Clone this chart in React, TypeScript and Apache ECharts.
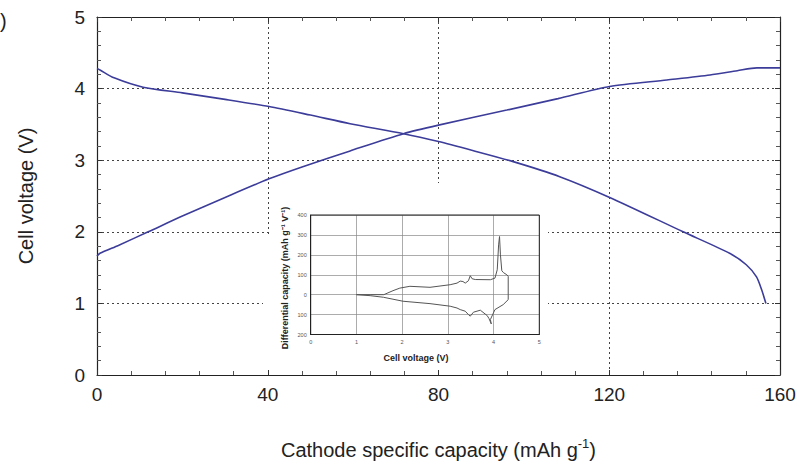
import React, { useEffect, useRef } from "react";
import * as echarts from "echarts";

// Main plot: charge (rising) curve
const chargeCap = [0, 0.7, 5, 12, 20, 30, 40.3, 48.2, 59.3, 71.8, 80, 96, 108, 120.1, 133.5, 143.6, 150, 154.6, 160];
const chargeV = [1.66, 1.7, 1.81, 2.0, 2.22, 2.48, 2.74, 2.91, 3.13, 3.37, 3.49, 3.7, 3.86, 4.03, 4.12, 4.19, 4.25, 4.29, 4.29];

// Main plot: discharge (falling) curve
const dischCap = [0, 0.7, 4, 10.8, 20, 30, 40.3, 50, 59.3, 71.8, 80, 88, 97.5, 108.4, 120.1, 137.3, 148.2, 152.1, 154.5, 155.7, 156.7];
const dischV = [4.28, 4.26, 4.15, 4.02, 3.94, 3.85, 3.75, 3.63, 3.51, 3.37, 3.26, 3.135, 2.98, 2.77, 2.48, 2.0, 1.7, 1.54, 1.37, 1.19, 1.0];

// Inset: differential capacity, upper (charge) branch
const insetUpV = [1.0, 1.3, 1.6, 1.8, 1.95, 2.17, 2.61, 3.05, 3.2, 3.27, 3.33, 3.38, 3.45, 3.49, 3.53, 3.6, 3.93, 4.03, 4.08, 4.11, 4.13, 4.15, 4.18, 4.22, 4.29, 4.32, 4.32];
const insetUpVal = [0, 0, 0, 20, 33, 42, 37, 50, 58, 68, 66, 58, 70, 95, 80, 76, 75, 83, 125, 250, 292, 200, 120, 110, 100, 92, -25];

// Inset: lower (discharge) branch
const insetLowV = [4.32, 4.21, 4.03, 3.93, 3.95, 3.9, 3.86, 3.71, 3.56, 3.49, 3.45, 3.38, 3.27, 3.2, 3.05, 2.61, 2.02, 1.59, 1.3, 1.0];
const insetLowVal = [-25, -50, -75, -125, -147, -120, -105, -78, -88, -108, -100, -83, -75, -67, -58, -45, -33, -13, -5, 0];

const zip = (a: number[], b: number[]) => a.map((v, i) => [v, b[i]]);

const FONT = "Liberation Sans, Arial, sans-serif";
const CURVE = "#3c3c9a";

export default function App() {
  const ref = useRef<HTMLDivElement>(null);
  useEffect(() => {
    if (!ref.current) return;
    const chart = echarts.init(ref.current, null, { renderer: "svg" });
    const mainG = { left: 97, top: 17, width: 683, height: 358 };
    const insG = { left: 310.7, top: 215, width: 228.6, height: 119.5 };
    const tickCommon = {
      axisLine: { show: true, onZero: false, lineStyle: { color: "#222", width: 1.2 } },
      axisTick: { show: true, inside: true, length: 5, lineStyle: { color: "#333" } },
      minorTick: { show: true, splitNumber: 5, length: 4, lineStyle: { color: "#555" } },
    };
    const option: any = {
      animation: false,
      backgroundColor: "#fff",
      grid: [mainG, insG],
      xAxis: [
        {
          gridIndex: 0, type: "value", min: 0, max: 160, interval: 40, position: "bottom",
          ...tickCommon,
          axisLabel: { fontSize: 19, color: "#222", margin: 10, fontFamily: FONT },
          splitLine: { show: true, lineStyle: { type: [2, 3], color: "#444", width: 1 } },
          name: "{a|Cathode specific capacity (mAh g}{s|-1}{a|)}",
          nameLocation: "middle", nameGap: 62,
          nameTextStyle: {
            rich: {
              a: { fontSize: 20, color: "#222", fontFamily: FONT },
              s: { fontSize: 13, color: "#222", fontFamily: FONT, padding: [0, 0, 12, 0] },
            },
          },
        },
        {
          gridIndex: 0, type: "value", min: 0, max: 160, interval: 40, position: "top",
          ...tickCommon, axisLabel: { show: false }, splitLine: { show: false },
        },
        {
          gridIndex: 1, type: "value", min: 0, max: 5, interval: 1, position: "bottom", z: 5,
          axisLine: { show: true, onZero: false, lineStyle: { color: "#222", width: 1 } },
          axisTick: { show: false },
          axisLabel: { fontSize: 5.5, color: "#555", margin: 4, fontFamily: FONT },
          splitLine: { show: true, lineStyle: { color: "#888", width: 0.7 } },
        },
      ],
      yAxis: [
        {
          gridIndex: 0, type: "value", min: 0, max: 5, interval: 1, position: "left",
          ...tickCommon,
          axisLabel: { fontSize: 19, color: "#222", margin: 12, fontFamily: FONT },
          splitLine: { show: true, lineStyle: { type: [2, 3], color: "#444", width: 1 } },
          name: "Cell voltage (V)", nameLocation: "middle", nameGap: 61,
          nameTextStyle: { fontSize: 20, color: "#222", fontFamily: FONT },
        },
        {
          gridIndex: 0, type: "value", min: 0, max: 5, interval: 1, position: "right",
          ...tickCommon, axisLabel: { show: false }, splitLine: { show: false },
        },
        {
          gridIndex: 1, type: "value", min: -200, max: 400, interval: 100, position: "left", z: 5,
          axisLine: { show: true, onZero: false, lineStyle: { color: "#222", width: 1 } },
          axisTick: { show: false },
          axisLabel: {
            fontSize: 5.5, color: "#555", margin: 4, fontFamily: FONT,
            formatter: (v: number) => String(Math.abs(v)),
          },
          splitLine: { show: true, lineStyle: { color: "#888", width: 0.7 } },
        },
      ],
      series: [
        {
          type: "line", xAxisIndex: 0, yAxisIndex: 0, data: zip(chargeCap, chargeV),
          showSymbol: false, smooth: 0.25, z: 3,
          lineStyle: { color: CURVE, width: 1.6 },
        },
        {
          type: "line", xAxisIndex: 0, yAxisIndex: 0, data: zip(dischCap, dischV),
          showSymbol: false, smooth: 0.25, z: 3,
          lineStyle: { color: CURVE, width: 1.6 },
        },
        {
          type: "line", xAxisIndex: 2, yAxisIndex: 2, data: zip(insetUpV, insetUpVal),
          showSymbol: false, z: 6, lineStyle: { color: "#555", width: 1 },
        },
        {
          type: "line", xAxisIndex: 2, yAxisIndex: 2, data: zip(insetLowV, insetLowVal),
          showSymbol: false, z: 6, lineStyle: { color: "#555", width: 1 },
        },
      ],
      graphic: [
        { type: "rect", z: 1, silent: true, shape: { x: 270, y: 183, width: 278, height: 187 }, style: { fill: "#fff" } },
        { type: "rect", z: 1, silent: true, shape: { x: 263, y: 234, width: 8, height: 136 }, style: { fill: "#fff" } },
        {
          type: "rect", z: 10, silent: true,
          shape: { x: insG.left, y: insG.top, width: insG.width, height: insG.height },
          style: { fill: "none", stroke: "#222", lineWidth: 1 },
        },
        {
          type: "text", z: 10, x: 285, y: 278, rotation: Math.PI / 2,
          style: {
            text: "Differential capacity (mAh g⁻¹ V⁻¹)", fill: "#222",
            font: "bold 9px " + FONT, textAlign: "center", textVerticalAlign: "middle",
          },
        },
        {
          type: "text", z: 10, x: 416, y: 358,
          style: {
            text: "Cell voltage (V)", fill: "#222",
            font: "bold 9px " + FONT, textAlign: "center", textVerticalAlign: "middle",
          },
        },
        {
          type: "text", z: 10, x: 0, y: 21,
          style: { text: ")", fill: "#222", font: "20px " + FONT, textAlign: "left", textVerticalAlign: "middle" },
        },
      ],
    };
    chart.setOption(option);
    return () => chart.dispose();
  }, []);
  return (
    <div
      ref={ref}
      style={{ position: "fixed", left: 0, top: 0, width: 802, height: 468, background: "#fff" }}
    />
  );
}
